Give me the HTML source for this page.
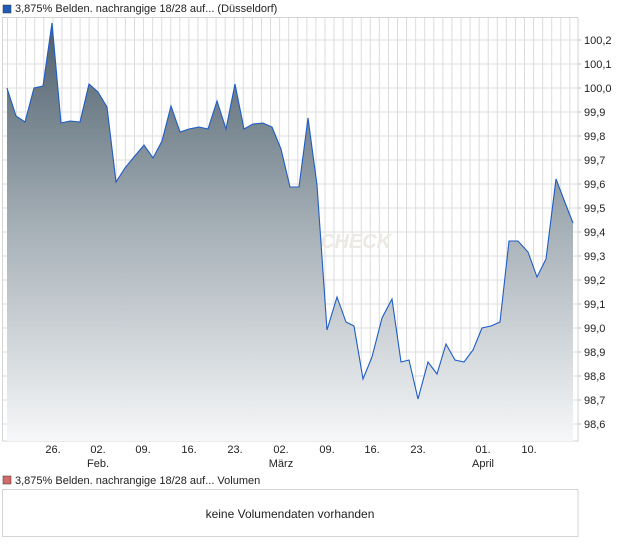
<!DOCTYPE html>
<html><head><meta charset="utf-8"><style>
body{margin:0;background:#fff;width:620px;height:546px;overflow:hidden;font-family:"Liberation Sans",sans-serif;}
</style></head><body>
<svg width="620" height="546" xmlns="http://www.w3.org/2000/svg" font-family="Liberation Sans, sans-serif" font-size="11" fill="#222">
<defs>
<linearGradient id="g" x1="0" y1="17" x2="0" y2="441" gradientUnits="userSpaceOnUse">
<stop offset="0" stop-color="#4b5d6a"/>
<stop offset="0.5" stop-color="#a6b0b7"/>
<stop offset="1" stop-color="#f6f7f8"/>
</linearGradient>
</defs>
<rect x="3" y="5" width="8" height="8" fill="#1f5cb8" stroke="#333" stroke-width="0.5"/>
<text x="15" y="12">3,875% Belden. nachrangige 18/28 auf... (Düsseldorf)</text>
<g stroke="#dcdcdc" stroke-width="1" id="grid"></g>
<rect x="2.5" y="17.5" width="575.5" height="423.5" fill="none" stroke="#d4d4d4"/>
<text x="320" y="248" font-size="20" font-style="italic" font-weight="bold" fill="#ece8e4">CHECK</text>
<path id="area" fill="url(#g)" stroke="none"/>
<path id="line" fill="none" stroke="#1f5cc6" stroke-width="1.1"/>
<g font-size="11" id="ylab"></g>
<g font-size="11" text-anchor="middle">
<text x="53" y="453">26.</text><text x="98" y="453">02.</text><text x="143" y="453">09.</text><text x="189" y="453">16.</text><text x="235" y="453">23.</text><text x="281" y="453">02.</text><text x="327" y="453">09.</text><text x="372" y="453">16.</text><text x="418" y="453">23.</text><text x="483" y="453">01.</text><text x="529" y="453">10.</text>
<text x="98" y="467">Feb.</text><text x="281" y="467">März</text><text x="483" y="467">April</text>
</g>
<rect x="3" y="476" width="8" height="8" fill="#d46a6a" stroke="#333" stroke-width="0.5"/>
<text x="15" y="484">3,875% Belden. nachrangige 18/28 auf... Volumen</text>
<rect x="2.5" y="489.5" width="575.5" height="47" fill="#fff" stroke="#d4d4d4"/>
<text x="290" y="518" font-size="12" text-anchor="middle">keine Volumendaten vorhanden</text>
</svg>
<script>
var ns="http://www.w3.org/2000/svg";
var g=document.getElementById('grid');
function ln(x1,y1,x2,y2){var l=document.createElementNS(ns,'line');l.setAttribute('x1',x1);l.setAttribute('y1',y1);l.setAttribute('x2',x2);l.setAttribute('y2',y2);g.appendChild(l);}
for(var x=7.5;x<578;x+=9.07){ln(x,18,x,441);}
var yl=document.getElementById('ylab');
for(var i=0;i<=16;i++){var v=100.2-i*0.1;var y=40+i*24;if(y<441){ln(3,y,578,y);
var t=document.createElementNS(ns,'text');t.setAttribute('x',584);t.setAttribute('y',y+4);t.textContent=v.toFixed(1).replace('.',',');yl.appendChild(t);
var tk=document.createElementNS(ns,'line');tk.setAttribute('x1',578);tk.setAttribute('x2',581);tk.setAttribute('y1',y);tk.setAttribute('y2',y);tk.setAttribute('stroke','#bbb');yl.appendChild(tk);}}
var p=[[7,88],[16,116],[25,122],[34,88],[43,86],[52,23],[61,123],[70,121],[80,122],[89,84],[98,92],[107,107],[116,182],[125,168],[134,157],[144,145],[153,158],[162,141],[171,106],[180,132],[189,129],[199,127],[208,129],[217,101],[226,129],[235,84],[244,129],[253,124],[263,123],[272,127],[281,149],[290,187],[299,187],[308,118],[317,185],[327,330],[337,297],[346,322],[354,326],[363,379],[372,357],[382,318],[392,299],[401,362],[409,360],[418,399],[428,362],[437,374],[446,344],[455,360],[464,362],[473,350],[482,328],[491,326],[500,322],[509,241],[518,241],[528,252],[537,277],[546,259],[556,179],[564,200],[573,223]];
var d=p.map(function(q,i){return (i?'L':'M')+q[0]+','+q[1]}).join('');
document.getElementById('line').setAttribute('d',d);
document.getElementById('area').setAttribute('d',d+'L573,441L7,441Z');
</script>
</body></html>
